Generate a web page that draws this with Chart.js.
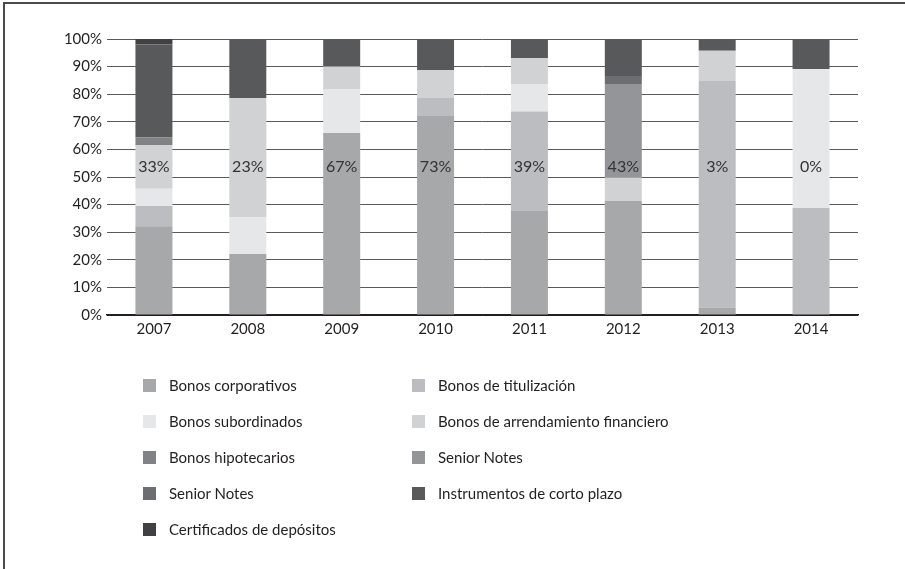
<!DOCTYPE html>
<html>
<head>
<meta charset="utf-8">
<script src="https://cdn.jsdelivr.net/npm/chart.js@4"></script>
<style>
  html, body { margin: 0; padding: 0; background: #fff; }
  #wrap { position: relative; width: 905px; height: 569px; overflow: hidden; font-family: Lato, 'Open Sans', sans-serif; }
  #frame { position: absolute; left: 3px; top: 2px; width: 1000px; height: 1000px; border-left: 2px solid #4a4a4c; border-top: 2px solid #4a4a4c; }
  #chart { position: absolute; left: 0; top: 0; }
  #legend { position: absolute; left: 143px; top: 367px; display: grid; grid-template-columns: 269px 300px; grid-auto-rows: 36px; }
  .item { display: flex; align-items: center; font-size: 15px; color: #231f20; white-space: nowrap; }
  .box { width: 13px; height: 13px; margin-right: 13px; flex: none; }
</style>
</head>
<body>
<div id="wrap">
  <div id="frame"></div>
  <canvas id="chart" width="905" height="569"></canvas>
  <div id="legend"></div>
</div>
<script>
'use strict';

// años
const years = ['2007', '2008', '2009', '2010', '2011', '2012', '2013', '2014'];

// composición (%) por tipo de instrumento, de abajo hacia arriba
const corporativos   = [32.2, 22.1, 65.9, 72.1, 37.7, 41.3,  2.7,  0.0];
const titulizacion   = [ 7.3,  0.0,  0.0,  6.5, 36.0,  0.0, 82.1, 38.8];
const subordinados   = [ 6.2, 13.4, 16.0,  0.0, 10.0,  0.0,  0.0, 50.3];
const arrendamiento  = [15.9, 43.1,  8.1, 10.1,  9.4,  8.5, 10.9,  0.0];
const hipotecarios   = [ 2.7,  0.0,  0.0,  0.0,  0.0,  0.0,  0.0,  0.0];
const seniorNotesA   = [ 0.0,  0.0,  0.0,  0.0,  0.0, 33.9,  0.0,  0.0];
const seniorNotesB   = [ 0.0,  0.0,  0.0,  0.0,  0.0,  2.9,  0.0,  0.0];
const cortoPlazo     = [33.7, 21.4, 10.0, 11.3,  6.9, 13.4,  4.3, 10.9];
const certificados   = [ 2.0,  0.0,  0.0,  0.0,  0.0,  0.0,  0.0,  0.0];

// etiquetas dentro de las barras
const barLabels = ['33%', '23%', '67%', '73%', '39%', '43%', '3%', '0%'];

const yTicks = [0, 10, 20, 30, 40, 50, 60, 70, 80, 90, 100];

const FONT = "Lato, 'Open Sans', sans-serif";
const TEXT = '#231f20';

const series = [
  { label: 'Bonos corporativos', data: corporativos, color: '#a7a8aa' },
  { label: 'Bonos de titulización', data: titulizacion, color: '#bcbdc0' },
  { label: 'Bonos subordinados', data: subordinados, color: '#e6e7e8' },
  { label: 'Bonos de arrendamiento financiero', data: arrendamiento, color: '#d1d2d4' },
  { label: 'Bonos hipotecarios', data: hipotecarios, color: '#808285' },
  { label: 'Senior Notes', data: seniorNotesA, color: '#939598' },
  { label: 'Senior Notes', data: seniorNotesB, color: '#6d6e71' },
  { label: 'Instrumentos de corto plazo', data: cortoPlazo, color: '#58595b' },
  { label: 'Certificados de depósitos', data: certificados, color: '#414042' }
];

// texto fijo a media altura sobre cada barra
const barTextPlugin = {
  id: 'barText',
  afterDatasetsDraw(chart, args, opts) {
    const { ctx, scales } = chart;
    const meta = chart.getDatasetMeta(0);
    const y = scales.y.getPixelForValue(opts.at);
    ctx.save();
    ctx.font = '16px ' + FONT;
    ctx.fillStyle = '#333';
    ctx.textAlign = 'center';
    ctx.textBaseline = 'middle';
    meta.data.forEach((bar, i) => ctx.fillText(barLabels[i], bar.x, y));
    ctx.restore();
  }
};

const chart = new Chart(document.getElementById('chart'), {
  type: 'bar',
  data: {
    labels: years,
    datasets: series.map(s => ({
      label: s.label,
      data: s.data,
      backgroundColor: s.color,
      borderWidth: 0,
      barPercentage: 1,
      categoryPercentage: 0.394
    }))
  },
  options: {
    responsive: false,
    animation: false,
    layout: { padding: { top: 39, right: 47, bottom: 224, left: 0 } },
    plugins: {
      legend: { display: false },
      tooltip: { enabled: false },
      barText: { at: 53.7 }
    },
    scales: {
      x: {
        stacked: true,
        z: 1,
        grid: { display: false, drawTicks: false },
        border: { display: true, color: '#231f20', width: 1.5 },
        ticks: { color: TEXT, font: { family: FONT, size: 15 }, padding: 5 },
        afterFit(scale) { scale.height = 30; }
      },
      y: {
        stacked: true,
        min: 0,
        max: 100,
        afterBuildTicks(scale) { scale.ticks = yTicks.map(v => ({ value: v })); },
        grid: {
          drawTicks: false,
          lineWidth: 1,
          color: c => (c.tick && c.tick.value === 0 ? '#231f20' : '#5a5a5c')
        },
        border: { display: false },
        ticks: { color: TEXT, font: { family: FONT, size: 15 }, padding: 5, callback: v => v + '%' },
        afterFit(scale) { scale.width = 107; }
      }
    }
  },
  plugins: [barTextPlugin]
});

// leyenda en dos columnas
const legend = document.getElementById('legend');
chart.data.datasets.forEach(ds => {
  const item = document.createElement('div');
  item.className = 'item';
  const box = document.createElement('span');
  box.className = 'box';
  box.style.background = ds.backgroundColor;
  item.appendChild(box);
  item.appendChild(document.createTextNode(ds.label));
  legend.appendChild(item);
});
</script>
</body>
</html>
